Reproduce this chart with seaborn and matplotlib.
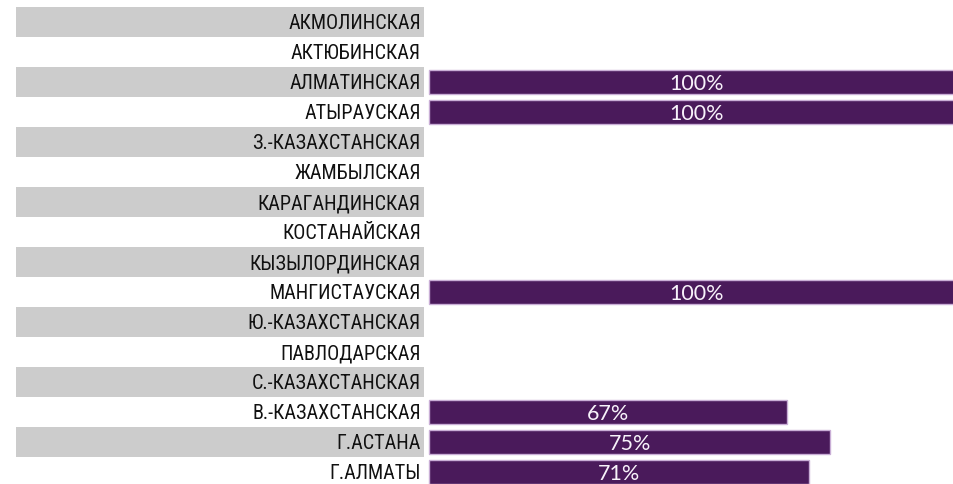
import matplotlib
matplotlib.use("Agg")
import matplotlib.pyplot as plt
import matplotlib.patches as mpatches
import seaborn as sns
import numpy as np
import pandas as pd

regions = [
    "АКМОЛИНСКАЯ", "АКТЮБИНСКАЯ", "АЛМАТИНСКАЯ", "АТЫРАУСКАЯ",
    "З.-КАЗАХСТАНСКАЯ", "ЖАМБЫЛСКАЯ", "КАРАГАНДИНСКАЯ", "КОСТАНАЙСКАЯ",
    "КЫЗЫЛОРДИНСКАЯ", "МАНГИСТАУСКАЯ", "Ю.-КАЗАХСТАНСКАЯ", "ПАВЛОДАРСКАЯ",
    "С.-КАЗАХСТАНСКАЯ", "В.-КАЗАХСТАНСКАЯ", "Г.АСТАНА", "Г.АЛМАТЫ",
]
shares = [None, None, 1.00, 1.00, None, None, None, None,
          None, 1.00, None, None, None, 0.67, 0.75, 0.71]

df = pd.DataFrame({"region": regions,
                   "share": [np.nan if s is None else s for s in shares]})
df_bars = df.dropna()

W, H, DPI = 954, 485, 100
fig = plt.figure(figsize=(W / DPI, H / DPI), dpi=DPI)
ax = fig.add_axes([0, 0, 1, 1])

# pixel geometry of the layout
x0_px = 429          # where bars start
unit_px = 535        # pixels per 100 %
row_px = 30
first_center_px = 23

def px_to_x(p):
    return (p - x0_px) / unit_px

# alternating grey bands behind labels
for i in range(len(regions)):
    if i % 2 == 0:
        ax.add_patch(mpatches.Rectangle((px_to_x(16), i - 0.5), px_to_x(424) - px_to_x(16), 1.0,
                                        facecolor="#cccccc", edgecolor="none", zorder=0))

sns.barplot(data=df_bars, x="share", y="region", order=regions, orient="h", ax=ax,
            color="#4a1a5b", saturation=1, width=0.8,
            edgecolor="#c9aed6", linewidth=1.0, zorder=2)

ax.set_xlim(px_to_x(0), px_to_x(W))
ax.set_ylim((H - first_center_px) / row_px, -first_center_px / row_px)

label_font = ["Liberation Sans Narrow", "Roboto Condensed", "Liberation Sans", "DejaVu Sans"]
for i, name in enumerate(regions):
    ax.text(px_to_x(421), i + 0.02, name, ha="right", va="center", fontsize=14.5,
            family=label_font, color="#111111", zorder=3)

for i, s in enumerate(shares):
    if s:
        ax.text(s / 2, i + 0.03, f"{round(s * 100)}%", ha="center", va="center",
                fontsize=15.5, family=["Lato", "DejaVu Sans"],
                color="#f7f2fa", zorder=4)

ax.axis("off")
fig.savefig("out.png", dpi=DPI)
